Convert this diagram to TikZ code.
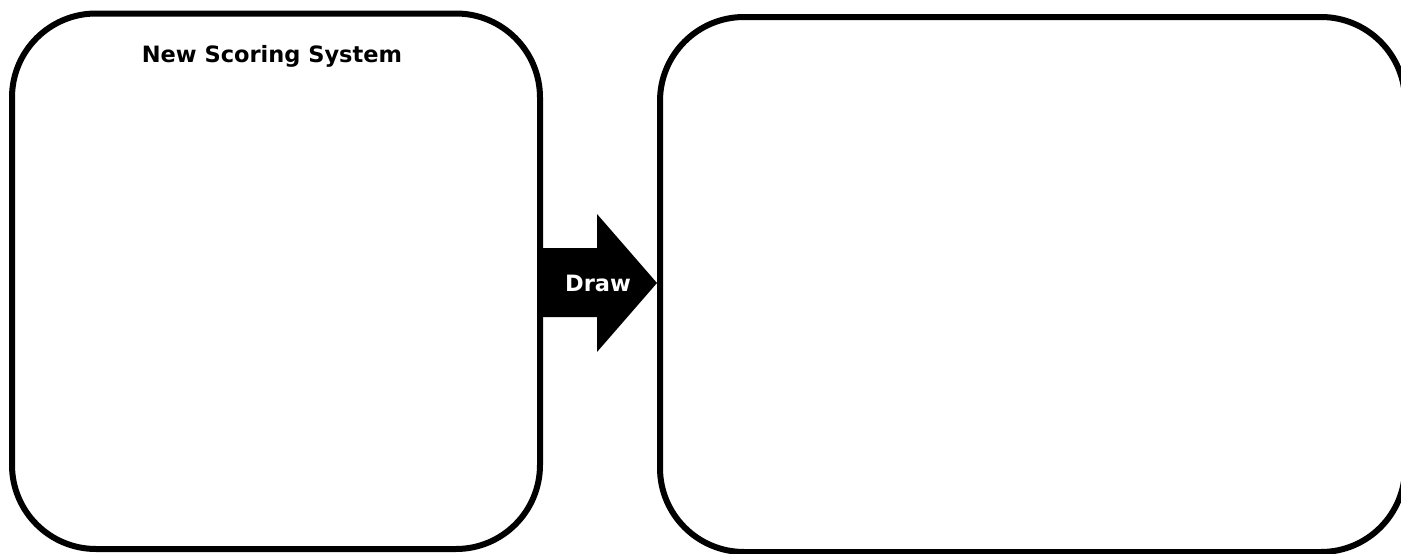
\documentclass[tikz,border=0pt]{standalone}
\usepackage{fontspec}
\setmainfont{DejaVu Sans}
\begin{document}
\begin{tikzpicture}[x=1pt,y=-1pt,
  panel/.style={draw=black,line width=6pt,rounded corners=84pt,inner sep=0pt,fill=none},
  lbltext/.style={font=\bfseries\fontsize{22.5}{26}\selectfont,inner sep=0pt,anchor=base},
  arrowfill/.style={fill=black}]
\useasboundingbox (0,0) rectangle (1401,554);
\fill[white] (0,0) rectangle (1401,554);
% arrow
\coordinate (a1) at (541,248);
\coordinate (a2) at (597,248);
\coordinate (a3) at (597,214);
\coordinate (a4) at (657,283);
\coordinate (a5) at (597,352);
\coordinate (a6) at (597,317);
\coordinate (a7) at (541,317);
\fill[arrowfill] (a1) -- (a2) -- (a3) -- (a4) -- (a5) -- (a6) -- (a7) -- cycle;
\node[lbltext,text=white] (drawlbl) at (598,291) {Draw};
% panels
\node[panel,minimum width=528pt,minimum height=535.5pt] (left) at (276,281.25) {};
\begin{scope}
\clip (0,0) rectangle (1401,554);
\node[panel,minimum width=745pt,minimum height=535pt,rounded corners=84pt] (right) at (1032.5,284.5) {};
\end{scope}
\node[lbltext] (title) at (272,62) {New Scoring System};
\end{tikzpicture}
\end{document}
